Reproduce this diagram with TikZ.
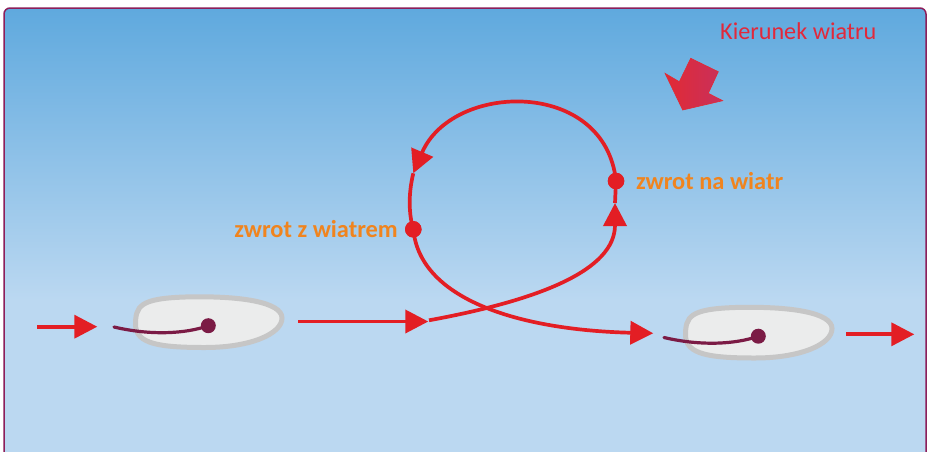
\documentclass[tikz,border=0pt]{standalone}
\usepackage{fontspec}
\setmainfont{Carlito}
\usetikzlibrary{arrows.meta}

\definecolor{skytop}{RGB}{95,169,222}
\definecolor{skylow}{RGB}{187,216,241}
\definecolor{framecol}{RGB}{140,30,90}
\definecolor{pathred}{RGB}{227,30,36}
\definecolor{labelred}{RGB}{226,40,58}
\definecolor{windred}{RGB}{226,42,52}
\definecolor{windcrimson}{RGB}{200,48,92}
\definecolor{tackorange}{RGB}{240,132,30}
\definecolor{hullfill}{RGB}{235,236,236}
\definecolor{hulledge}{RGB}{198,198,198}
\definecolor{rigcol}{RGB}{123,27,69}

\tikzset{
  course/.style={draw=pathred, line width=3.7pt},
  coursetip/.style={-{Triangle[length=23pt,width=23pt]}},
  tackdot/.style={circle, fill=pathred, inner sep=0pt, minimum size=16.5pt},
  tacklabel/.style={text=tackorange, font=\bfseries\fontsize{24.4}{28}\selectfont, inner sep=0pt},
  hull/.style={fill=hullfill, draw=hulledge, line width=5pt},
  boom/.style={draw=rigcol, line width=3.2pt, line cap=round},
  mast/.style={circle, fill=rigcol, inner sep=0pt, minimum size=15pt},
}

\begin{document}
\begin{tikzpicture}[x=1pt,y=-1pt]
  \useasboundingbox (0,0) rectangle (929,451);
  \fill[white] (0,0) rectangle (929,451);

  % sky panel
  \begin{scope}
    \clip[rounded corners=6pt] (4,8) rectangle (926,470);
    \shade[top color=skytop, bottom color=skylow] (4,8) rectangle (926,300);
    \fill[skylow] (4,299) rectangle (926,470);
  \end{scope}
  \draw[framecol, line width=1.5pt, rounded corners=6pt] (4,8) rectangle (926,470);

  % wind direction
  \node[text=labelred, font=\fontsize{24.2}{28}\selectfont, inner sep=0pt, anchor=base west] (windlabel) at (720,39) {Kierunek wiatru};
  \shade[left color=windred, right color=windcrimson, draw=windred, line width=0.6pt, line join=miter]
    (682.7,110) -- (665,73.3) -- (679.3,81.7) -- (690.7,58.3) -- (718.3,71.7)
    -- (708.3,93.3) -- (722.7,100.7) -- cycle;

  % boats
  \foreach \dx/\dy/\nm in {0/0/L, 550/10.5/R}{
    \begin{scope}[shift={(\dx,\dy)}]
      \path[hull] (135.5,325) .. controls (135.5,306) and (140,298.5) .. (185,297)
        .. controls (240,295.5) and (282,302) .. (282,318)
        .. controls (282,334) and (250,347.5) .. (205,347.5)
        .. controls (160,347.5) and (136,344) .. (135.5,325) -- cycle;
      \node[mast] (mast\nm) at (208.3,325.7) {};
      \coordinate (boom\nm) at (114,327);
      \draw[boom] (boom\nm) .. controls (150,335.5) and (185,334) .. (mast\nm.center);
    \end{scope}
  }

  % straight runs
  \coordinate (inA) at (37,326.7);
  \coordinate (inB) at (97.3,326.7);
  \coordinate (midA) at (298,321.5);
  \coordinate (midB) at (428.3,321.5);
  \coordinate (outA) at (846,334.3);
  \coordinate (outB) at (914.3,334.3);
  \draw[course, coursetip] (inA) -- (inB);
  \draw[course, coursetip] (midA) -- (midB);
  \draw[course, coursetip] (outA) -- (outB);

  % the loop
  \node[tackdot] (tackR) at (616,181) {};
  \node[tackdot] (tackL) at (413.3,229.3) {};
  \coordinate (loopIn) at (429,320.3);
  \coordinate (upTip) at (615,203);
  \coordinate (downTip) at (413.3,173.3);
  \coordinate (loopOut) at (653.3,333.3);

  \draw[course, coursetip] (loopIn) .. controls (540,300) and (615,270) .. (upTip);
  \draw[course] (upTip) -- (tackR.center);
  \draw[course, coursetip] (tackR.center) .. controls (605,78) and (452,82) .. (downTip);
  \draw[course] (downTip) .. controls (408,195) and (409,215) .. (tackL.center);
  \draw[course, coursetip] (tackL.center) .. controls (420,300) and (520,330) .. (loopOut);
  \node[tackdot] at (tackR) {};
  \node[tackdot] at (tackL) {};

  % manoeuvre labels
  \node[tacklabel, anchor=base east] (gybe) at (398,237) {zwrot z wiatrem};
  \node[tacklabel, anchor=base west] (tack) at (636,189) {zwrot na wiatr};
\end{tikzpicture}
\end{document}
